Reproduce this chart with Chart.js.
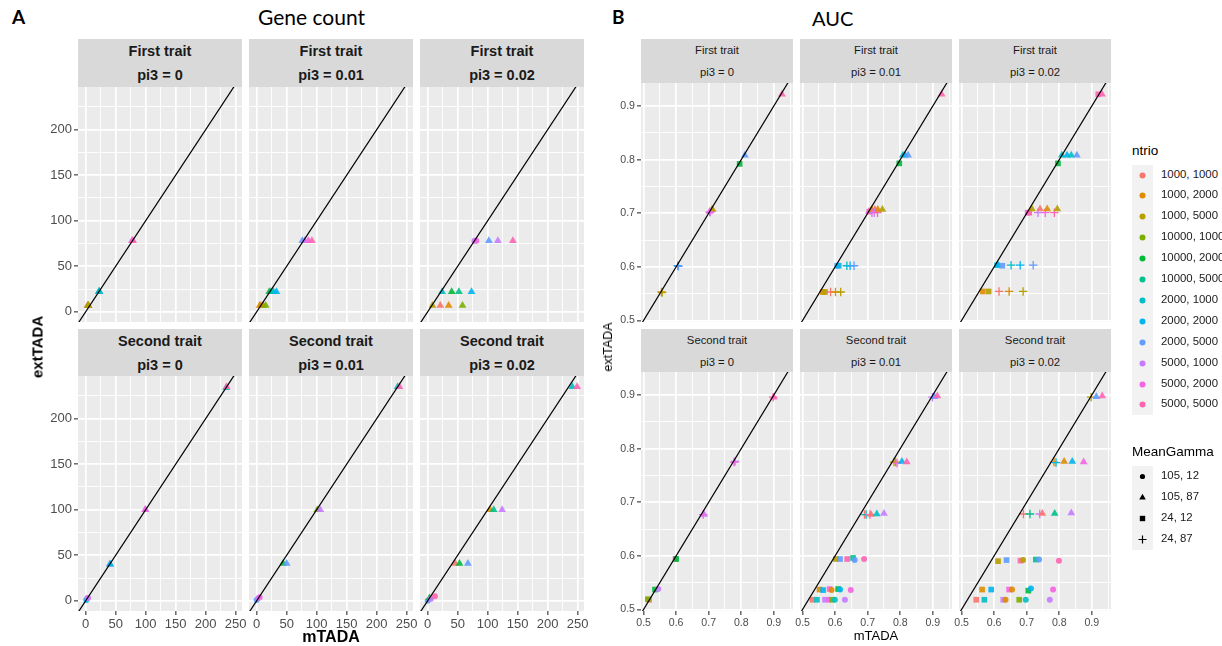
<!DOCTYPE html>
<html>
<head>
<meta charset="utf-8">
<script src="https://cdn.jsdelivr.net/npm/chart.js@4.4.0/dist/chart.umd.min.js"></script>
<style>
  body { margin: 0; background: #fff; font-family: "Liberation Sans", Arial, sans-serif; }
  #wrap { position: relative; width: 1222px; height: 646px; overflow: hidden; }
  #wrap canvas { position: absolute; }
  .txt { position: absolute; white-space: nowrap; color: #000; }
  .strip { position: absolute; background: #D9D9D9; color: #1A1A1A; text-align: center; }
  .key { position: absolute; width: 21px; height: 21px; background: #F2F2F2; }
</style>
</head>
<body>
<div id="wrap"></div>
<script>
// 범례 항목
const ntrioLabels = ['1000, 1000', '1000, 2000', '1000, 5000', '10000, 1000', '10000, 2000', '10000, 5000',
  '2000, 1000', '2000, 2000', '2000, 5000', '5000, 1000', '5000, 2000', '5000, 5000'];
const gammaLabels = ['105, 12', '105, 87', '24, 12', '24, 87'];
const traitLabels = ['First trait', 'Second trait'];
const pi3Labels = ['pi3 = 0', 'pi3 = 0.01', 'pi3 = 0.02'];

// 눈금
const geneMajor = [0, 50, 100, 150, 200, 250];
const geneMinor = [25, 75, 125, 175, 225];
const aucMajor = [0.5, 0.6, 0.7, 0.8, 0.9];
const aucMinor = [0.55, 0.65, 0.75, 0.85, 0.95];

// [ntrio, MeanGamma, mTADA, extTADA]
const geneFirst0 = [[0,1,3,7],[1,1,4,7],[3,1,4,7],[2,1,5,7],
  [4,1,22,22],[5,1,23,22],[7,1,23,22],[8,1,22,22],[6,1,22,22],
  [9,1,77,78],[10,1,78,78],[11,1,79,78]];
const geneFirst01 = [[0,1,7,7],[1,1,5,7],[2,1,11,7],[3,1,15,7],
  [4,1,21,22],[5,1,24,22],[6,1,28,22],[7,1,33,22],
  [8,1,76,78],[9,1,80,78],[10,1,86,78],[11,1,92,78]];
const geneFirst02 = [[2,1,8,7],[0,1,21,7],[1,1,35,7],[3,1,58,7],
  [6,1,24,22],[4,1,40,22],[5,1,52,22],[7,1,73,22],
  [9,0,78,78],[10,0,81,78],[8,1,102,78],[9,1,117,78],[11,1,142,78]];
const geneSecond0 = [[7,0,1,1],[10,0,3,3],[9,0,4,3],
  [8,1,40,40],[7,1,41,40],[9,1,100,100],[10,1,99,100],
  [6,1,234,234],[11,1,235,235]];
const geneSecond01 = [[8,0,0,1],[9,0,3,3],[10,0,5,4],[4,1,44,41],[8,1,50,41],
  [3,1,101,100],[9,1,106,100],[6,1,235,235],[11,1,238,235]];
const geneSecond02 = [[8,0,0,0],[4,1,3,3],[9,0,5,2],[11,0,12,5],
  [0,1,46,41],[4,1,53,41],[8,1,67,41],[1,1,104,100],[5,1,110,100],[9,1,124,100],
  [6,1,241,235],[11,1,249,235]];

const aucFirst0 = [[1,3,0.555,0.553],[2,3,0.557,0.552],[7,3,0.605,0.602],[8,3,0.607,0.601],
  [1,1,0.71,0.707],[2,1,0.712,0.707],[10,1,0.703,0.703],[9,3,0.705,0.702],[10,3,0.703,0.702],
  [4,2,0.795,0.792],[8,1,0.811,0.808],[11,1,0.925,0.922]];
const aucFirst01 = [[1,2,0.562,0.553],[2,2,0.569,0.553],[0,3,0.586,0.553],[1,3,0.601,0.553],[2,3,0.617,0.553],
  [8,2,0.606,0.602],[7,2,0.611,0.602],[6,3,0.636,0.602],[7,3,0.646,0.602],[8,3,0.658,0.602],
  [11,2,0.705,0.703],[10,1,0.704,0.703],[1,1,0.712,0.707],[0,1,0.722,0.707],[1,1,0.731,0.707],[2,1,0.745,0.707],
  [10,3,0.713,0.701],[9,3,0.72,0.701],[11,3,0.73,0.701],
  [4,2,0.797,0.793],[6,1,0.808,0.808],[7,1,0.815,0.808],[8,1,0.824,0.808],[11,1,0.927,0.922]];
const aucFirst02 = [[1,2,0.565,0.554],[2,2,0.583,0.554],[0,3,0.615,0.554],[1,3,0.646,0.554],[2,3,0.689,0.554],
  [6,2,0.609,0.603],[7,1,0.611,0.604],[8,2,0.625,0.602],[6,3,0.652,0.603],[7,3,0.68,0.603],[8,3,0.72,0.603],
  [10,2,0.703,0.701],[11,2,0.708,0.701],[9,3,0.735,0.701],[10,3,0.757,0.701],[11,3,0.785,0.701],
  [2,1,0.716,0.708],[0,1,0.741,0.708],[1,1,0.763,0.708],[2,1,0.794,0.708],
  [4,2,0.796,0.793],[6,1,0.808,0.808],[7,1,0.824,0.808],[6,1,0.837,0.808],[8,1,0.854,0.808],
  [11,2,0.92,0.922],[11,1,0.931,0.922]];
const aucSecond0 = [[0,2,0.517,0.518],[3,2,0.513,0.519],[4,2,0.535,0.537],[9,0,0.545,0.538],
  [11,2,0.598,0.594],[4,2,0.6,0.594],[9,1,0.686,0.677],[10,3,0.683,0.677],
  [9,3,0.781,0.776],[10,3,0.778,0.775],[11,3,0.898,0.896],[11,1,0.9,0.896]];
const aucSecond01 = [[0,2,0.530,0.518],[6,2,0.544,0.518],[9,2,0.569,0.518],[10,0,0.581,0.518],[3,2,0.591,0.518],[6,0,0.599,0.518],[9,0,0.630,0.518],
  [1,2,0.552,0.537],[7,2,0.563,0.536],[10,2,0.583,0.538],[1,0,0.589,0.536],[4,2,0.609,0.538],[7,0,0.615,0.537],[10,0,0.648,0.536],
  [2,2,0.602,0.594],[8,2,0.615,0.594],[11,2,0.637,0.594],[5,2,0.655,0.596],[8,0,0.66,0.592],[11,0,0.689,0.594],
  [0,3,0.69,0.677],[6,3,0.695,0.677],[10,3,0.707,0.677],[0,1,0.71,0.677],[6,1,0.728,0.678],[9,1,0.75,0.679],
  [2,3,0.781,0.775],[1,3,0.786,0.775],[10,3,0.79,0.773],[7,1,0.805,0.776],[11,1,0.82,0.775],
  [9,3,0.899,0.896],[8,1,0.905,0.897],[11,1,0.914,0.898]];
const aucSecond02 = [[0,2,0.545,0.518],[6,2,0.57,0.518],[9,2,0.628,0.518],[1,0,0.635,0.518],[3,2,0.677,0.518],[6,0,0.697,0.518],[9,0,0.771,0.518],
  [1,2,0.563,0.537],[7,2,0.591,0.537],[10,2,0.646,0.537],[1,0,0.655,0.537],[4,2,0.705,0.535],[7,0,0.713,0.539],[10,0,0.781,0.537],
  [2,2,0.612,0.59],[8,2,0.638,0.592],[11,2,0.681,0.591],[2,0,0.689,0.592],[5,2,0.728,0.593],[8,0,0.738,0.593],[11,0,0.799,0.591],
  [0,3,0.69,0.678],[5,3,0.71,0.678],[9,3,0.74,0.678],[0,1,0.748,0.679],[5,1,0.786,0.679],[9,1,0.837,0.68],
  [1,3,0.784,0.775],[7,3,0.79,0.774],[1,1,0.815,0.776],[7,1,0.84,0.776],[10,1,0.875,0.775],
  [2,3,0.898,0.896],[8,1,0.914,0.897],[11,1,0.932,0.898]];

// ggplot 기본 색상
const ntrioColors = ['#F8766D', '#DE8C00', '#B79F00', '#7CAE00', '#00BA38', '#00C08B',
  '#00BFC4', '#00B4F0', '#619CFF', '#C77CFF', '#F564E3', '#FF64B0'];
const shapeNames = ['circle', 'triangle', 'rect', 'cross'];
const shapeRadius = [3, 4.5, 4, 4.2];

const PAD = 8;
const wrap = document.getElementById('wrap');
Chart.defaults.font.family = 'Liberation Sans';

function addText(text, css) {
  const d = document.createElement('div');
  d.className = 'txt';
  d.textContent = text;
  Object.assign(d.style, css);
  wrap.appendChild(d);
  return d;
}

function hexAlpha(hex, a) {
  const n = parseInt(hex.slice(1), 16);
  return `rgba(${n >> 16},${(n >> 8) & 255},${n & 255},${a})`;
}

const panelBg = {
  id: 'panelBg',
  beforeDraw(chart) {
    const { ctx, chartArea: a } = chart;
    ctx.save();
    ctx.fillStyle = '#EBEBEB';
    ctx.fillRect(a.left, a.top, a.right - a.left, a.bottom - a.top);
    ctx.restore();
  }
};

function axisCfg(range, major, minor, fmt, show, size, fontSize) {
  const all = major.concat(minor);
  const isMajor = c => c.tick && major.includes(c.tick.value);
  return {
    type: 'linear', min: range[0], max: range[1],
    afterBuildTicks: a => {
      a.ticks = all.filter(v => v >= range[0] && v <= range[1]).sort((p, q) => p - q).map(v => ({ value: v }));
    },
    afterFit: s => {
      if (s.isHorizontal()) s.height = size; else s.width = size;
      s.paddingLeft = s.paddingRight = s.paddingTop = s.paddingBottom = 0;
    },
    grid: {
      color: '#FFFFFF',
      lineWidth: c => isMajor(c) ? 1.7 : 0.9,
      drawTicks: show, tickLength: 4, tickWidth: 1.1,
      tickColor: c => isMajor(c) ? '#333333' : 'rgba(0,0,0,0)'
    },
    border: { display: false },
    ticks: {
      display: show, autoSkip: false, maxRotation: 0, padding: 2,
      color: '#4D4D4D', font: { size: fontSize },
      callback: v => major.includes(v) ? fmt(v) : ''
    }
  };
}

function makePanel(spec, r, c, pts) {
  const left = spec.cols[c], w = spec.w;
  const [stripTop, top, bottom] = spec.rows[r];
  const showY = c === 0, showX = r === 1;
  const yW = showY ? spec.yW : 0, xH = showX ? spec.xH : 0;

  // 패널 제목 띠
  const s = document.createElement('div');
  s.className = 'strip';
  Object.assign(s.style, {
    left: left + 'px', top: stripTop + 'px', width: w + 'px', height: (top - stripTop) + 'px',
    fontWeight: spec.bold ? 'bold' : 'normal', fontSize: spec.stripFont + 'px', lineHeight: spec.stripLine + 'px'
  });
  s.innerHTML = traitLabels[r] + '<br>' + pi3Labels[c];
  wrap.appendChild(s);

  const cv = document.createElement('canvas');
  cv.width = w + yW + 2 * PAD;
  cv.height = bottom - top + xH + 2 * PAD;
  cv.style.left = (left - yW - PAD) + 'px';
  cv.style.top = (top - PAD) + 'px';
  wrap.appendChild(cv);

  const lo = Math.min(spec.xRange[0], spec.yRange[0]) - 1;
  const hi = Math.max(spec.xRange[1], spec.yRange[1]) + 1;

  new Chart(cv.getContext('2d'), {
    type: 'scatter',
    data: {
      datasets: [
        { type: 'line', data: [{ x: lo, y: lo }, { x: hi, y: hi }], borderColor: '#000', borderWidth: 1.2, pointRadius: 0 },
        {
          data: pts.map(p => ({ x: p[2], y: p[3], n: p[0], g: p[1] })),
          pointStyle: ctx => ctx.raw ? shapeNames[ctx.raw.g] : 'circle',
          pointRadius: ctx => ctx.raw ? shapeRadius[ctx.raw.g] : 3,
          backgroundColor: ctx => ctx.raw ? hexAlpha(ntrioColors[ctx.raw.n], 0.9) : 'transparent',
          borderColor: ctx => ctx.raw ? ntrioColors[ctx.raw.n] : 'transparent',
          borderWidth: ctx => ctx.raw && ctx.raw.g === 3 ? 1.3 : 0
        }
      ]
    },
    options: {
      responsive: false, animation: false, events: [],
      layout: { padding: PAD },
      plugins: { legend: { display: false }, tooltip: { enabled: false } },
      scales: {
        x: axisCfg(spec.xRange, spec.major, spec.minor, spec.fmt, showX, xH, spec.tickFont),
        y: axisCfg(spec.yRange, spec.major, spec.minor, spec.fmt, showY, yW, spec.tickFont)
      }
    },
    plugins: [panelBg]
  });
}

const geneSpec = {
  cols: [78, 249, 420], w: 164, rows: [[39, 87, 322], [329, 376, 611]],
  xRange: [-12.8, 260.5], yRange: [-11.2, 246.8], major: geneMajor, minor: geneMinor,
  fmt: v => String(v), yW: 42, xH: 20, tickFont: 13, bold: true, stripFont: 14.5, stripLine: 24
};
const aucSpec = {
  cols: [641, 800, 959], w: 152, rows: [[39, 83, 322], [329, 372, 611]],
  xRange: [0.492, 0.959], yRange: [0.497, 0.943], major: aucMajor, minor: aucMinor,
  fmt: v => v.toFixed(1), yW: 36, xH: 18, tickFont: 10.6, bold: false, stripFont: 11.3, stripLine: 22
};

const genePanels = [[geneFirst0, geneFirst01, geneFirst02], [geneSecond0, geneSecond01, geneSecond02]];
const aucPanels = [[aucFirst0, aucFirst01, aucFirst02], [aucSecond0, aucSecond01, aucSecond02]];
for (let r = 0; r < 2; r++) {
  for (let c = 0; c < 3; c++) {
    makePanel(geneSpec, r, c, genePanels[r][c]);
    makePanel(aucSpec, r, c, aucPanels[r][c]);
  }
}

// 제목과 축 이름
addText('A', { left: '12px', top: '5px', font: 'bold 19px Lato' });
addText('Gene count', { left: '258px', top: '4px', font: '21px Lato' });
addText('B', { left: '612px', top: '5px', font: 'bold 19px Lato' });
addText('AUC', { left: '812px', top: '6px', font: '20px Lato' });
addText('mTADA', { left: '331px', top: '628px', transform: 'translateX(-50%)', font: 'bold 16px "Liberation Sans"' });
addText('mTADA', { left: '876px', top: '628px', transform: 'translateX(-50%)', font: '13px "Liberation Sans"', color: '#000' });
addText('extTADA', { left: '37px', top: '347px', transform: 'translate(-50%,-50%) rotate(-90deg)', font: 'bold 15px "Liberation Sans"' });
addText('extTADA', { left: '608px', top: '347px', transform: 'translate(-50%,-50%) rotate(-90deg)', font: '12.5px "Liberation Sans"' });

// 범례
function drawKey(top, color, shape, r) {
  const k = document.createElement('canvas');
  k.className = 'key';
  k.width = 21; k.height = 21;
  k.style.left = '1132px'; k.style.top = top + 'px';
  wrap.appendChild(k);
  const g = k.getContext('2d');
  g.fillStyle = '#F2F2F2';
  g.fillRect(0, 0, 21, 21);
  g.fillStyle = color; g.strokeStyle = color; g.lineWidth = 1.2;
  g.beginPath();
  if (shape === 'circle') { g.arc(10.5, 10.5, r, 0, Math.PI * 2); g.fill(); }
  else if (shape === 'triangle') { g.moveTo(10.5, 10.5 - r); g.lineTo(10.5 + r * 0.866, 10.5 + r * 0.5); g.lineTo(10.5 - r * 0.866, 10.5 + r * 0.5); g.closePath(); g.fill(); }
  else if (shape === 'rect') { g.fillRect(10.5 - r * 0.707, 10.5 - r * 0.707, r * 1.414, r * 1.414); }
  else { g.moveTo(10.5 - r, 10.5); g.lineTo(10.5 + r, 10.5); g.moveTo(10.5, 10.5 - r); g.lineTo(10.5, 10.5 + r); g.stroke(); }
}

addText('ntrio', { left: '1132px', top: '143px', font: '13.5px "Liberation Sans"' });
ntrioLabels.forEach((lab, i) => {
  const t = 164.5 + i * 20.9;
  drawKey(t, ntrioColors[i], 'circle', 3);
  addText(lab, { left: '1161px', top: (t + 3) + 'px', font: '11.4px "Liberation Sans"', color: '#1A1A1A' });
});
addText('MeanGamma', { left: '1132px', top: '444px', font: '13.5px "Liberation Sans"' });
gammaLabels.forEach((lab, i) => {
  const t = 465.5 + i * 21.3;
  drawKey(t, '#000', shapeNames[i], i === 0 ? 2.6 : i === 3 ? 4 : 3.8);
  addText(lab, { left: '1161px', top: (t + 3) + 'px', font: '11.4px "Liberation Sans"', color: '#1A1A1A' });
});
</script>
</body>
</html>
